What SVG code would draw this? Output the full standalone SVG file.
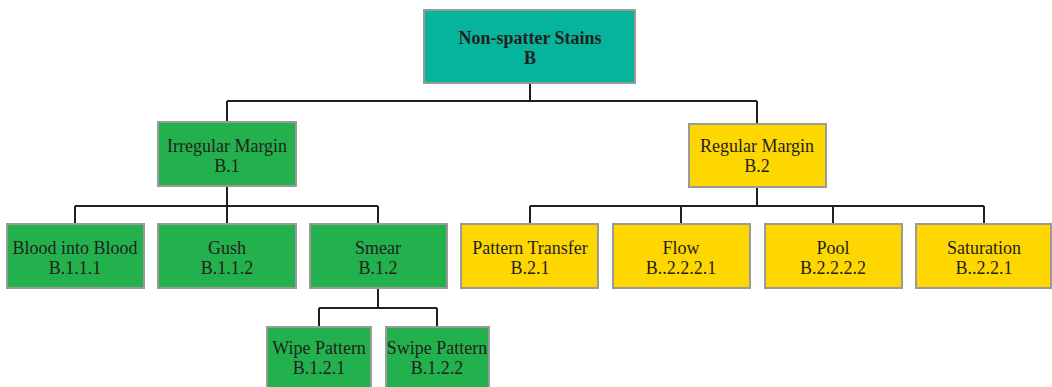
<svg xmlns="http://www.w3.org/2000/svg" width="1052" height="387" viewBox="0 0 1052 387">
  <style>
    .box { stroke: #9a9a9a; stroke-width: 2; }
    .teal { fill: #06b39b; }
    .green { fill: #22b14c; }
    .yellow { fill: #ffd700; }
    text { font-family: "Liberation Serif", "Times New Roman", serif; font-size: 18px; fill: #231f20; text-anchor: middle; }
    .bold { font-weight: bold; }
    .conn { fill: none; stroke: #231f20; stroke-width: 2; }
  </style>

  <!-- connectors -->
  <g id="connectors">
    <path class="conn" d="M530 83 V101 M227 101 H757 M227 101 V122 M757 101 V124"/>
    <path class="conn" d="M227 186 V206 M75 206 H378 M75 206 V224 M227 206 V224 M378 206 V224"/>
    <path class="conn" d="M757 187 V206 M530 206 H984 M530 206 V224 M681 206 V224 M833 206 V224 M984 206 V224"/>
    <path class="conn" d="M378 288 V308 M319 308 H437 M319 308 V327 M437 308 V327"/>
  </g>

  <!-- root -->
  <g id="node-b">
    <rect class="box teal" x="424" y="10" width="211" height="73"/>
    <text class="bold" x="530" y="44">Non-spatter Stains</text>
    <text class="bold" x="530" y="64">B</text>
  </g>

  <!-- second level -->
  <g id="node-b1">
    <rect class="box green" x="158" y="122" width="138" height="64"/>
    <text x="227" y="152">Irregular Margin</text>
    <text x="227" y="172">B.1</text>
  </g>
  <g id="node-b2">
    <rect class="box yellow" x="689" y="124" width="137" height="63"/>
    <text x="757" y="152">Regular Margin</text>
    <text x="757" y="172">B.2</text>
  </g>

  <!-- third level, irregular margin -->
  <g id="node-b111">
    <rect class="box green" x="7" y="224" width="137" height="64"/>
    <text x="75" y="254">Blood into Blood</text>
    <text x="75" y="274">B.1.1.1</text>
  </g>
  <g id="node-b112">
    <rect class="box green" x="158" y="224" width="138" height="64"/>
    <text x="227" y="254">Gush</text>
    <text x="227" y="274">B.1.1.2</text>
  </g>
  <g id="node-b12">
    <rect class="box green" x="310" y="224" width="137" height="64"/>
    <text x="378" y="254">Smear</text>
    <text x="378" y="274">B.1.2</text>
  </g>

  <!-- third level, regular margin -->
  <g id="node-b21">
    <rect class="box yellow" x="461" y="224" width="137" height="64"/>
    <text x="530" y="254">Pattern Transfer</text>
    <text x="530" y="274">B.2.1</text>
  </g>
  <g id="node-b2221">
    <rect class="box yellow" x="613" y="224" width="137" height="64"/>
    <text x="681" y="254">Flow</text>
    <text x="681" y="274">B..2.2.2.1</text>
  </g>
  <g id="node-b2222">
    <rect class="box yellow" x="765" y="224" width="137" height="64"/>
    <text x="833" y="254">Pool</text>
    <text x="833" y="274">B.2.2.2.2</text>
  </g>
  <g id="node-b221">
    <rect class="box yellow" x="916" y="224" width="135" height="64"/>
    <text x="984" y="254">Saturation</text>
    <text x="984" y="274">B..2.2.1</text>
  </g>

  <!-- fourth level, smear -->
  <g id="node-b121">
    <rect class="box green" x="267" y="327" width="104" height="64"/>
    <text x="319" y="354">Wipe Pattern</text>
    <text x="319" y="374">B.1.2.1</text>
  </g>
  <g id="node-b122">
    <rect class="box green" x="386" y="327" width="103" height="64"/>
    <text x="437" y="354">Swipe Pattern</text>
    <text x="437" y="374">B.1.2.2</text>
  </g>
</svg>
